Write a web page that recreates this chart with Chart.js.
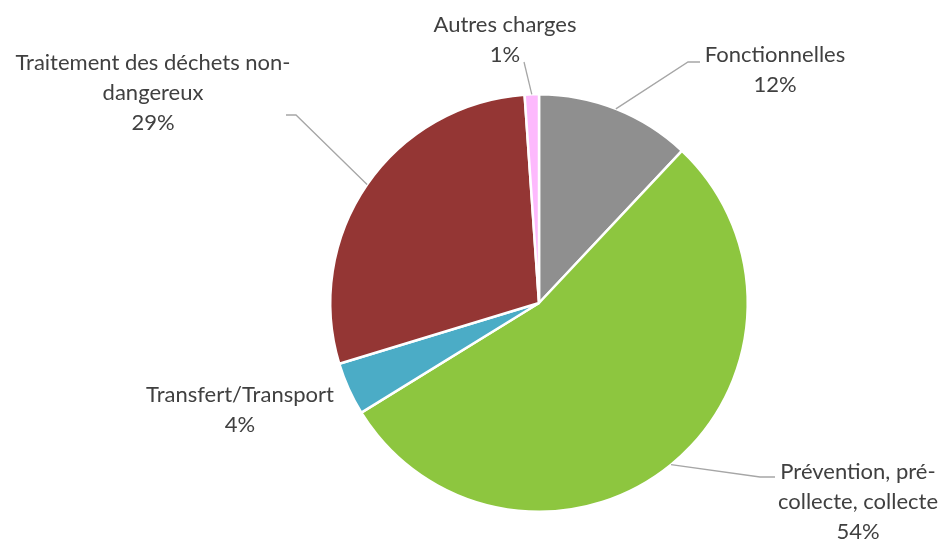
<!DOCTYPE html>
<html lang="fr">
<head>
<meta charset="utf-8">
<title>Répartition des charges</title>
<script src="https://cdn.jsdelivr.net/npm/chart.js@4.4.1/dist/chart.umd.min.js"></script>
<style>
    html, body { margin: 0; padding: 0; background: #ffffff; }
    canvas { display: block; }
</style>
</head>
<body>
<canvas id="graphiqueCharges" width="943" height="539"></canvas>
<script>
// Données du graphique
const categories = ['Fonctionnelles', 'Prévention, pré-collecte, collecte', 'Transfert/Transport', 'Traitement des déchets non-dangereux', 'Autres charges'];
const valeurs = [12.0, 54.2, 4.1, 28.6, 1.1];
// Libellés découpés comme sur l'original
const lignesLibelles = [
    ['Fonctionnelles'],
    ['Prévention, pré-', 'collecte, collecte'],
    ['Transfert/Transport'],
    ['Traitement des déchets non-', 'dangereux'],
    ['Autres charges']
];
const couleurs = ['#8f8f8f', '#8dc63f', '#4bacc6', '#943634', '#fdb9fd'];

// Position des étiquettes et coudes des lignes de rappel
const positionsEtiquettes = [
    { x: 775, y: 55, coude: [688, 62], fin: [700, 62] },
    { x: 858, y: 472, coude: [760, 477], fin: [775, 477] },
    { x: 240, y: 395, coude: null, fin: null },
    { x: 153, y: 63, coude: [296, 115], fin: [286, 115] },
    { x: 505, y: 25, coude: null, fin: [524, 62] }
];

// Plugin pour dessiner les étiquettes extérieures
const pluginEtiquettes = {
    id: 'etiquettesExterieures',
    afterDatasetsDraw(chart) {
        const ctx = chart.ctx;
        const meta = chart.getDatasetMeta(0);
        const total = valeurs.reduce((a, b) => a + b, 0);
        ctx.save();
        meta.data.forEach((arc, i) => {
            const p = arc.getProps(['x', 'y', 'startAngle', 'endAngle', 'outerRadius'], true);
            const milieu = (p.startAngle + p.endAngle) / 2;
            const pos = positionsEtiquettes[i];

            // Ligne de rappel
            if (pos.fin) {
                ctx.beginPath();
                ctx.strokeStyle = '#a6a6a6';
                ctx.lineWidth = 1.3;
                ctx.moveTo(p.x + Math.cos(milieu) * p.outerRadius, p.y + Math.sin(milieu) * p.outerRadius);
                if (pos.coude) ctx.lineTo(pos.coude[0], pos.coude[1]);
                ctx.lineTo(pos.fin[0], pos.fin[1]);
                ctx.stroke();
            }

            // Texte
            const lignes = lignesLibelles[i].concat([Math.round(valeurs[i] / total * 100) + '%']);
            ctx.fillStyle = '#404040';
            ctx.font = '22px Lato';
            ctx.textAlign = 'center';
            ctx.textBaseline = 'middle';
            lignes.forEach((txt, k) => {
                ctx.fillText(txt, pos.x, pos.y + k * 30);
            });
        });
        ctx.restore();
    }
};

function initGraphique() {
    const ctxPie = document.getElementById('graphiqueCharges');
    new Chart(ctxPie, {
        type: 'pie',
        data: {
            labels: categories,
            datasets: [{
                data: valeurs,
                backgroundColor: couleurs,
                borderColor: '#ffffff',
                borderWidth: 2.5
            }]
        },
        options: {
            responsive: false,
            animation: false,
            layout: {
                padding: { left: 329, right: 194, top: 93, bottom: 26 }
            },
            plugins: {
                legend: { display: false },
                tooltip: { enabled: false }
            }
        },
        plugins: [pluginEtiquettes]
    });
}

initGraphique();
</script>
</body>
</html>
